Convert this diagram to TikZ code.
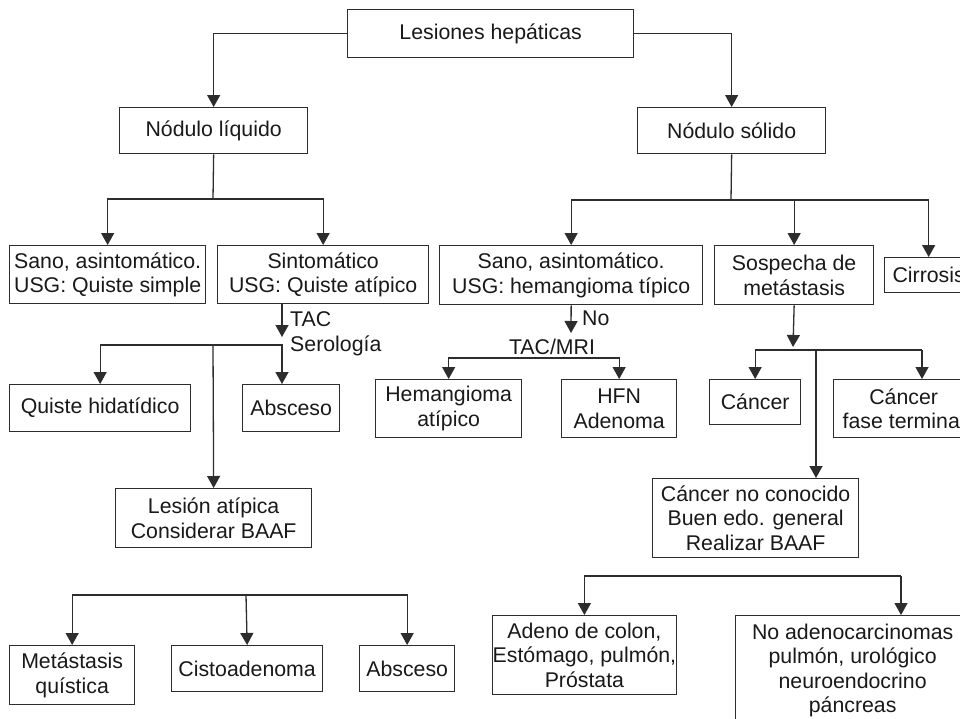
\documentclass[tikz,border=0pt]{standalone}
\usepackage{fontspec}
\setmainfont{Liberation Sans}
\usetikzlibrary{arrows.meta,calc}
\definecolor{ln}{RGB}{45,45,45}
\definecolor{tx}{RGB}{25,25,25}
\tikzset{
  box/.style={draw=ln, line width=1.3pt, fill=white, inner sep=0pt, anchor=north west,
    align=center, text=tx, font=\fontsize{21.3pt}{24.5pt}\selectfont},
  lbl/.style={inner sep=0pt, text=tx, font=\fontsize{21.3pt}{24.5pt}\selectfont},
  conn/.style={draw=ln, line width=1.3pt},
  arr/.style={conn, -{Triangle[length=12pt,width=13pt]}}
}
\begin{document}
\begin{tikzpicture}[x=1pt,y=-1pt]
\clip (0,0) rectangle (960,718);
\fill[white] (0,0) rectangle (960,718);
% nodes
\node[box, minimum width=286pt, minimum height=48pt] (top) at (347,9) {Lesiones hepáticas};
\node[box, minimum width=188pt, minimum height=46pt] (liq) at (119,107) {Nódulo líquido};
\node[box, minimum width=188pt, minimum height=46pt] (sol) at (637,107) {Nódulo sólido};
\node[box, minimum width=196pt, minimum height=58pt] (sano1) at (9,245) {Sano, asintomático.\\USG: Quiste simple};
\node[box, minimum width=211pt, minimum height=58pt] (sint) at (217,245) {Sintomático\\USG: Quiste atípico};
\node[box, minimum width=263pt, minimum height=59pt] (sano2) at (439,245) {Sano, asintomático.\\USG: hemangioma típico};
\node[box, minimum width=159pt, minimum height=59pt] (sosp) at (714,245) {Sospecha de\\metástasis};
\node[box, minimum width=88pt, minimum height=35pt] (cirr) at (884,257) {Cirrosis};
\node[box, minimum width=181pt, minimum height=47pt] (quiste) at (9,384) {Quiste hidatídico};
\node[box, minimum width=97pt, minimum height=47pt] (abs1) at (242,384) {Absceso};
\node[box, minimum width=146pt, minimum height=58pt] (hema) at (375,379) {Hemangioma\\atípico};
\node[box, minimum width=115pt, minimum height=58pt] (hfn) at (561,379) {HFN\\Adenoma};
\node[box, minimum width=91pt, minimum height=45pt] (canc) at (709,379) {Cáncer};
\node[box, minimum width=140pt, minimum height=58pt] (cft) at (833,379) {Cáncer\\fase terminal};
\node[box, minimum width=196pt, minimum height=59pt] (lesion) at (115,488) {Lesión atípica\\Considerar BAAF};
\node[box, minimum width=206pt, minimum height=79pt] (cnc) at (652,478) {Cáncer no conocido\\Buen edo. general\\Realizar BAAF};
\node[box, minimum width=125pt, minimum height=59pt] (meta) at (9,645) {Metástasis\\quística};
\node[box, minimum width=151pt, minimum height=46pt] (cisto) at (171,645) {Cistoadenoma};
\node[box, minimum width=95pt, minimum height=46pt] (abs2) at (359,645) {Absceso};
\node[box, minimum width=148pt, minimum height=79pt] (adeno) at (492,615) {Adeno de colon,\\Estómago, pulmón,\\Próstata};
\node[box, minimum width=234pt, minimum height=110pt] (noad) at (735,615) {No adenocarcinomas\\pulmón, urológico\\neuroendocrino\\páncreas};
% labels
\node[lbl, anchor=west, align=left] (lab1) at (290,334) {TAC\\Serología};
\node[lbl, anchor=west] (lab2) at (582,318) {No};
\node[lbl] (lab3) at (552,347) {TAC/MRI};
% junction coordinates
\coordinate (jL) at (213,199);
\coordinate (jS) at (731,200);
\coordinate (tacTip) at (282,337);
\coordinate (j1) at (213,345);
\coordinate (noTip) at (571,333);
\coordinate (jH) at (533,358);
\coordinate (spTip) at (793,347);
\coordinate (jC) at (816,350);
\coordinate (jCr) at (922,350);
\coordinate (jB) at (246,595);
\coordinate (jR) at (733,576);
\coordinate (jRr) at (901,576);
% connectors
\draw[arr] (top.west) -| (liq.north);
\draw[arr] (top.east) -| (sol.north);
\draw[conn] (liq.south) -- (jL);
\draw[arr] (jL) -| (sano1.north);
\draw[arr] (jL) -| (sint.north);
\draw[conn] (sol.south) -- (jS);
\draw[arr] (jS) -| (sano2.north);
\draw[arr] (jS) -| (sosp.north);
\draw[arr] (jS) -| (cirr.north);
\draw[arr] (sint.south -| tacTip) -- (tacTip);
\draw[arr] (j1) -| (quiste.north);
\draw[arr] (j1) -| (abs1.north -| tacTip);
\draw[arr] (j1) -- (lesion.north);
\draw[arr] (sano2.south) -- (noTip);
\draw[arr] (jH) -| (hema.north);
\draw[arr] (jH) -| (hfn.north);
\draw[arr] (sosp.south) -- (spTip);
\draw[arr] (jC) -| (canc.north);
\draw[conn] (jC) -- (jCr);
\draw[arr] (jCr) -- (cft.north -| jCr);
\draw[arr] (jC) -- (cnc.north -| jC);
\draw[arr] (jB) -| (meta.north);
\draw[arr] (jB) -- (cisto.north);
\draw[arr] (jB) -| (abs2.north);
\draw[arr] (jR) -| (adeno.north);
\draw[conn] (jR) -- (jRr);
\draw[arr] (jRr) -- (noad.north -| jRr);
\end{tikzpicture}
\end{document}
